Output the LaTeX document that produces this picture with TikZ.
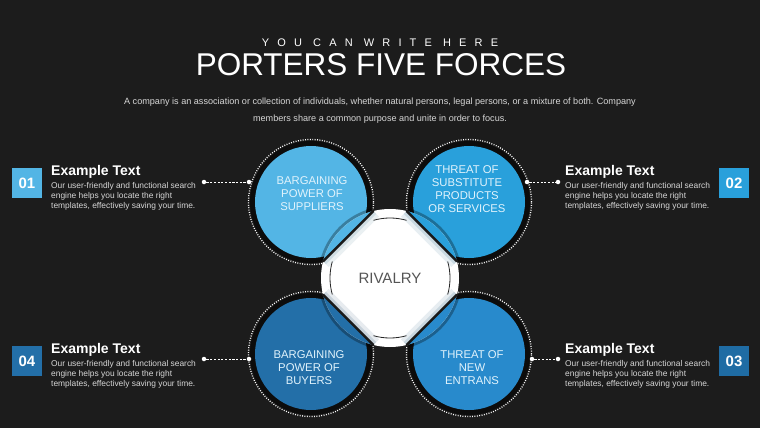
\documentclass[tikz,border=0pt]{standalone}
\usepackage{fontspec}
\setmainfont{Liberation Sans}
\usetikzlibrary{positioning, calc}

\definecolor{bgdark}{RGB}{28,28,28}
\definecolor{ringdark}{RGB}{12,12,12}
\definecolor{cA}{RGB}{83,181,229}
\definecolor{cB}{RGB}{41,160,219}
\definecolor{cC}{RGB}{40,138,204}
\definecolor{cD}{RGB}{35,111,168}
\definecolor{boxC}{RGB}{31,108,164}
\definecolor{pale}{RGB}{225,243,252}
\definecolor{blurbgray}{RGB}{215,215,215}
\definecolor{rivalgray}{RGB}{85,85,85}

\begin{document}
\begin{tikzpicture}[x=1pt, y=-1pt,
		every node/.style={font=\small, text=white},
		force/.style={circle, minimum size=112pt, inner sep=0pt},
		forcetext/.style={align=center, inner sep=0pt, text=pale, font=\fontsize{11.3}{13}\selectfont},
		ring/.style={draw=white, line width=1.3pt, dash pattern=on 0.9pt off 1.5pt},
		numbox/.style={minimum width=30pt, minimum height=30pt, inner sep=0pt, font=\bfseries\fontsize{15}{15}\selectfont},
		headline/.style={anchor=west, inner sep=0pt, font=\bfseries\fontsize{14}{14}\selectfont},
		blurb/.style={anchor=north west, inner sep=0pt, align=left, text=blurbgray, font=\fontsize{8.4}{10.4}\selectfont},
		dot/.style={circle, fill=white, minimum size=4.5pt, inner sep=0pt},
		link/.style={draw=white, line width=0.9pt, dash pattern=on 2.2pt off 1.5pt}]
		\useasboundingbox (0,0) rectangle (760,428);
		\fill[bgdark] (0,0) rectangle (760,428);

		% heading
		\node (kicker) at (380,43) {\fontsize{11}{11}\selectfont\addfontfeature{LetterSpace=74}YOU CAN WRITE HERE};
		\node (title) at (381,65) {\fontsize{31.5}{32}\selectfont PORTERS FIVE FORCES};
		\node[align=center, text=blurbgray, font=\fontsize{9.1}{17}\selectfont] (intro) at (380,111)
			{A company is an association or collection of individuals, whether natural persons, legal persons, or a mixture of both. Company\\
			members share a common purpose and unite in order to focus.};

		% four forces
		\foreach \p/\c/\n in {{(311,202)}/cA/f1, {(469,202)}/cB/f2, {(469,354)}/cC/f3, {(311,354)}/cD/f4} {
			\fill[ringdark] \p circle (61pt);
			\draw[ring] \p circle (62.5pt);
			\node[force, fill=\c] (\n) at \p {};
		}

		% rivalry in the middle
		\coordinate (w) at (390,278);
		\fill[white] (w) circle (69pt);
		\begin{scope}
			\clip (w) circle (69pt);
			\foreach \a/\c in {225/cA, 315/cB, 45/cC, 135/cD} {
				\draw[\c!60!black, opacity=0.10, line width=16pt] ($(w)+(\a-31:69)$) -- ($(w)+(\a+31:69)$);
				\draw[\c!60!black, opacity=0.15, line width=8pt] ($(w)+(\a-31:69)$) -- ($(w)+(\a+31:69)$);
			}
		\end{scope}
		\foreach \a in {0,90,180,270}
			\draw[black!85, line width=0.8pt] ($(w)+(\a-16:60)$) arc (\a-16:\a+16:60);
		\foreach \a/\c in {225/cA, 315/cB, 45/cC, 135/cD} {
			\draw[black, opacity=0.3, line width=3pt] ($(w)+(\a-31:70.5)$) arc (\a-31:\a+31:70.5);
			\fill[\c] ($(w)+(\a-31:69)$) arc (\a-31:\a+31:69) -- cycle;
			\draw[black!90, line width=2.6pt, line cap=round] ($(w)+(\a-31:69)$) -- ($(w)+(\a+31:69)$);
		}
		\node[text=rivalgray, font=\fontsize{15}{15}\selectfont] (rival) at (w) {RIVALRY};

		\node[forcetext] (t1) at (312,194) {BARGAINING\\POWER OF\\SUPPLIERS};
		\node[forcetext] (t2) at (467,189) {THREAT OF\\SUBSTITUTE\\PRODUCTS\\OR SERVICES};
		\node[forcetext] (t3) at (472,368) {THREAT OF\\NEW\\ENTRANS};
		\node[forcetext] (t4) at (309,368) {BARGAINING\\POWER OF\\BUYERS};

		% side notes
		\node[numbox, fill=cA] (n1) at (27,183) {01};
		\node[numbox, fill=cB] (n2) at (734,183) {02};
		\node[numbox, fill=boxC] (n3) at (734,361) {03};
		\node[numbox, fill=cD] (n4) at (27,361) {04};

		\node[headline] (h1) at (51,172) {Example Text};
		\node[headline] (h2) at (565,172) {Example Text};
		\node[headline] (h3) at (565,350) {Example Text};
		\node[headline] (h4) at (51,350) {Example Text};

		\foreach \h/\b in {h1/b1, h2/b2, h3/b3, h4/b4}
			\node[blurb] (\b) at ($(\h.south west)+(0,3)$)
				{Our user-friendly and functional search\\engine helps you locate the right\\templates, effectively saving your time.};

		% connectors
		\node[dot] (p1) at (249,182) {};
		\node[dot] (q1) at (204,182) {};
		\node[dot] (p2) at (527,182) {};
		\node[dot] (q2) at (558,182) {};
		\node[dot] (p3) at (532,359) {};
		\node[dot] (q3) at (558,359) {};
		\node[dot] (p4) at (249,359) {};
		\node[dot] (q4) at (204,359) {};
		\draw[link] (q1) -- (p1);
		\draw[link] (p2) -- (q2);
		\draw[link] (p3) -- (q3);
		\draw[link] (q4) -- (p4);
	\end{tikzpicture}
\end{document}
